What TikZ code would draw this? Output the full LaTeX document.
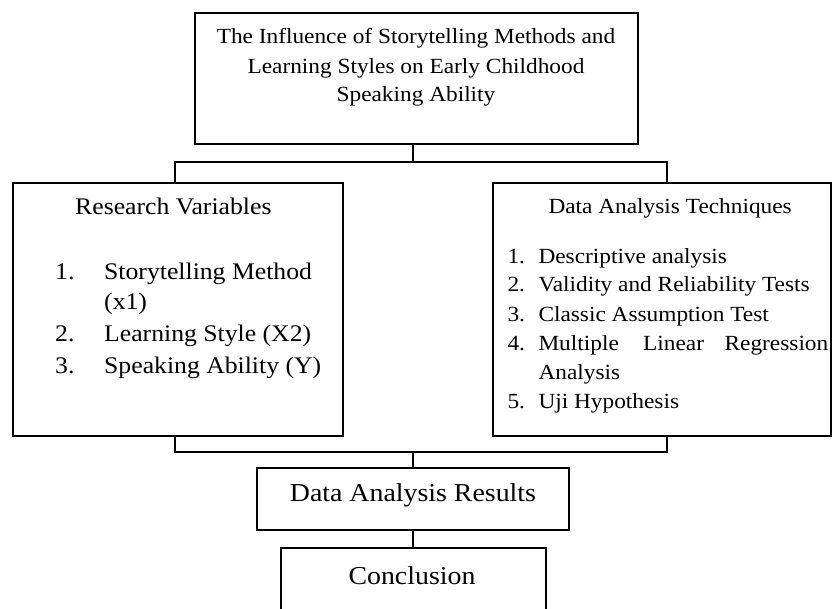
\documentclass[tikz,border=0pt]{standalone}
\usepackage{fontspec}
\setmainfont{Liberation Serif}[FakeStretch=1.08]
\begin{document}
\begin{tikzpicture}[x=1pt,y=-1pt,
  box/.style={draw, line width=1.3pt, rectangle, inner sep=0pt},
  txt/.style={inner sep=0pt, anchor=base},
  txtw/.style={inner sep=0pt, anchor=base west},
  txte/.style={inner sep=0pt, anchor=base east},
  ft/.style={font=\fontsize{21.6}{24}\selectfont},
  fl/.style={font=\fontsize{23.8}{27}\selectfont},
  fr/.style={font=\fontsize{21.6}{24}\selectfont},
  fb/.style={font=\fontsize{25.8}{27}\selectfont},
  conn/.style={line width=1.3pt}]
\useasboundingbox (0,0) rectangle (832,609);
\clip (0,0) rectangle (832,609);
% boxes
\node[box, minimum width=443pt, minimum height=131pt] (top) at (416.5,78.5) {};
\node[box, minimum width=330pt, minimum height=253pt] (left) at (178,309.5) {};
\node[box, minimum width=338pt, minimum height=253pt] (right) at (662,309.5) {};
\node[box, minimum width=312pt, minimum height=62pt] (res) at (413,499) {};
\node[box, minimum width=265pt, minimum height=112pt] (conc) at (413.5,604) {};
% top text
\node[txt, ft] (t1) at (416,43.5) {The Influence of Storytelling Methods and};
\node[txt, ft] (t2) at (416,73.3) {Learning Styles on Early Childhood};
\node[txt, ft] (t3) at (416,101.7) {Speaking Ability};
% left text
\node[txtw, fl] (lt) at (75,215) {Research Variables};
\node[txtw, fl] (ln1) at (55,279.3) {1.};
\node[txtw, fl] (li1) at (104,279.3) {Storytelling Method};
\node[txtw, fl] (li1b) at (104,309) {(x1)};
\node[txtw, fl] (ln2) at (55,341.7) {2.};
\node[txtw, fl] (li2) at (104,341.7) {Learning Style (X2)};
\node[txtw, fl] (ln3) at (55,373.3) {3.};
\node[txtw, fl] (li3) at (104,373.3) {Speaking Ability (Y)};
% right text
\node[txtw, fr] (rt) at (548.3,214) {Data Analysis Techniques};
\node[txtw, fr] (rn1) at (507.3,263.3) {1.};
\node[txtw, fr] (ri1) at (538.3,263.3) {Descriptive analysis};
\node[txtw, fr] (rn2) at (507.3,291.7) {2.};
\node[txtw, fr] (ri2) at (538.3,291.7) {Validity and Reliability Tests};
\node[txtw, fr] (rn3) at (507.3,321.7) {3.};
\node[txtw, fr] (ri3) at (538.3,321.7) {Classic Assumption Test};
\node[txtw, fr] (rn4) at (507.3,350) {4.};
\node[txtw, fr] (ri4a) at (538.3,350) {Multiple};
\node[txtw, fr] (ri4b) at (643,350) {Linear};
\node[txte, fr] (ri4c) at (828.5,350) {Regression};
\node[txtw, fr] (ri4d) at (538.3,379.3) {Analysis};
\node[txtw, fr] (rn5) at (507.3,408.3) {5.};
\node[txtw, fr] (ri5) at (538.3,408.3) {Uji Hypothesis};
% bottom texts
\node[txt, fb] (rest) at (413,501.7) {Data Analysis Results};
\node[txt, fb] (conct) at (412,584.3) {Conclusion};
% connector coordinates
\coordinate (tm) at (413,162);
\coordinate (hl) at (175,162);
\coordinate (hr) at (667,162);
\coordinate (bl) at (175,452);
\coordinate (br) at (667,452);
\coordinate (bm) at (413,452);
% connectors
\draw[conn] (top.south -| tm) -- (tm);
\draw[conn] (left.north -| hl) |- (hr) -- (right.north -| hr);
\draw[conn] (left.south -| bl) |- (br) -- (right.south -| br);
\draw[conn] (bm) -- (res.north -| bm);
\draw[conn] (res.south -| bm) -- (conc.north -| bm);
\end{tikzpicture}
\end{document}
